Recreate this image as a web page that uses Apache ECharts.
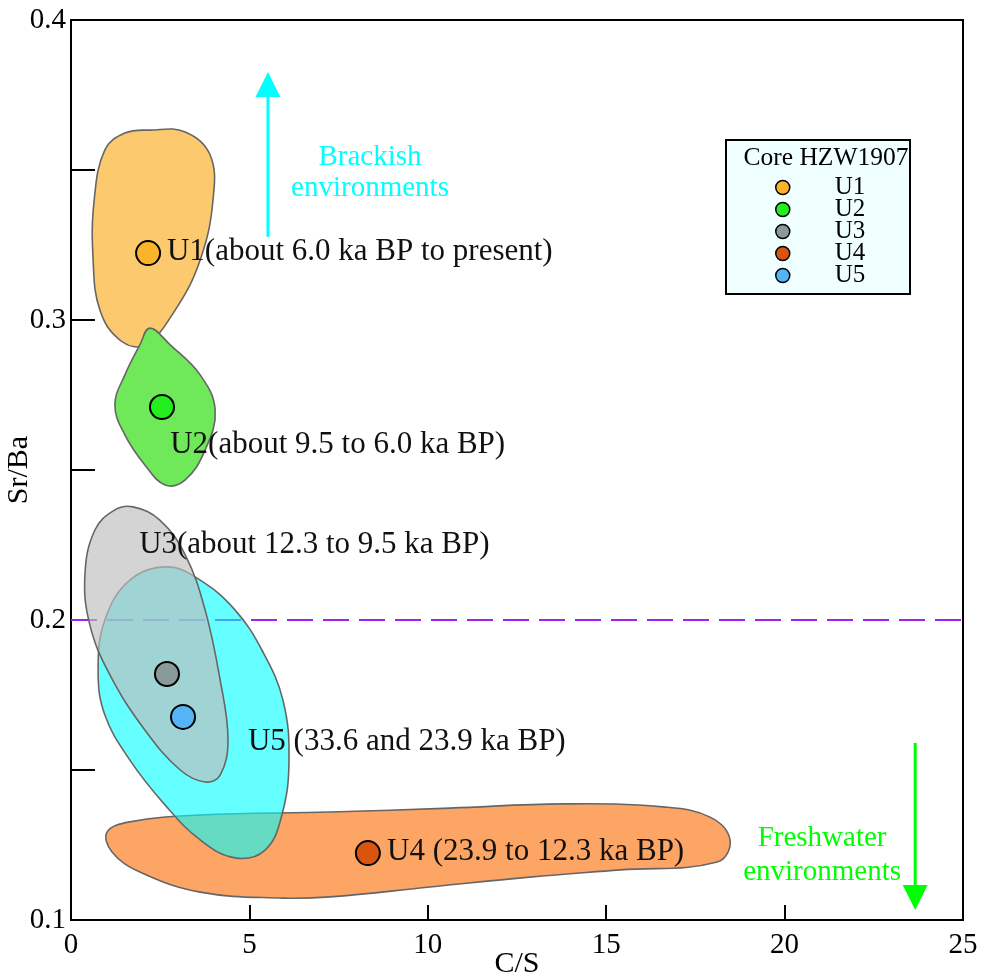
<!DOCTYPE html>
<html>
<head>
<meta charset="utf-8">
<script src="https://cdn.jsdelivr.net/npm/echarts@6/dist/echarts.min.js"></script>
<style>
html,body{margin:0;padding:0;background:#fff;}
#chart{width:985px;height:979px;}
</style>
</head>
<body>
<div id="chart"></div>
<script>
// ---------- data ----------
const xTicks = [0, 5, 10, 15, 20, 25];
const yTicks = [0.1, 0.2, 0.3, 0.4];
const unitNames = ['U1', 'U2', 'U3', 'U4', 'U5'];

// mean C/S and Sr/Ba of each unit
const u1Point = [2.16, 0.3223];
const u2Point = [2.55, 0.271];
const u3Point = [2.69, 0.182];
const u4Point = [8.32, 0.1223];
const u5Point = [3.14, 0.1677];

// envelope outlines [C/S, Sr/Ba]
const u1Blob = [[2.21,0.3633],[3.20,0.3627],[3.90,0.355],[3.98,0.34],[3.62,0.32],[2.92,0.3033],[2.07,0.2917],[1.37,0.2933],[0.81,0.3033],[0.62,0.32],[0.65,0.34],[0.95,0.3567],[1.51,0.3623]];
const u2Blob = [[2.21,0.2973],[2.78,0.2917],[3.62,0.2817],[4.04,0.27],[3.76,0.2567],[3.20,0.2467],[2.64,0.245],[2.07,0.2517],[1.51,0.2617],[1.23,0.2717],[1.51,0.2817],[1.93,0.2917]];
const u3Blob = [[1.74,0.2377],[2.49,0.2333],[3.20,0.2217],[3.76,0.2033],[4.18,0.18],[4.40,0.16],[4.18,0.1483],[3.76,0.146],[3.06,0.15],[2.07,0.1633],[1.09,0.1817],[0.53,0.1983],[0.39,0.215],[0.67,0.23],[1.23,0.2367]];
const u4Blob = [[1.01,0.1293],[1.65,0.1327],[3.62,0.135],[7.26,0.136],[10.62,0.1373],[13.79,0.1387],[16.59,0.1377],[17.91,0.1343],[18.47,0.1267],[18.11,0.1193],[15.39,0.1167],[12.86,0.1143],[10.06,0.111],[7.26,0.1077],[5.94,0.1073],[3.62,0.1093],[1.93,0.116],[1.15,0.1227]];
const u5Blob = [[2.69,0.2177],[3.62,0.2133],[4.60,0.2033],[5.35,0.19],[5.94,0.1733],[6.11,0.1533],[5.91,0.135],[5.44,0.1233],[4.60,0.1207],[3.62,0.1267],[2.64,0.1383],[1.65,0.1533],[0.95,0.1683],[0.76,0.1833],[0.95,0.2],[1.65,0.2133]];

const boundaryLine = [[0, 0.2], [25, 0.2]];

const annotationTexts = ['U1(about 6.0 ka BP to present)', 'U2(about 9.5 to 6.0 ka BP)', 'U3(about 12.3 to 9.5 ka BP)', 'U5 (33.6 and 23.9 ka BP)', 'U4 (23.9 to 12.3 ka BP)'];
const annotationAnchors = [[2.69, 0.3227], [2.78, 0.2583], [1.91, 0.225], [4.96, 0.1593], [8.86, 0.1227]];

const brackishArrow = [[5.52, 0.3277], [5.52, 0.3827]];
const freshArrow = [[23.66, 0.159], [23.66, 0.1033]];
const brackishText = 'Brackish\nenvironments';
const brackishAnchor = [8.38, 0.3492];
const freshText = 'Freshwater\nenvironments';
const freshAnchor = [21.05, 0.1217];

// ---------- styles ----------
const FONT = "'Liberation Serif', 'DejaVu Serif', serif";
const unitColors = {U1:'#FBB42A', U2:'#22F01E', U3:'#8A9A9A', U4:'#D9540F', U5:'#55B4F5'};

function blobSeries(name, pts, fill, z) {
  return {
    type: 'custom', name: name, z: z, silent: true,
    data: pts, encode: {x: 0, y: 1},
    renderItem: function (params, api) {
      if (params.dataIndex !== 0) return null;
      const points = pts.map(function (p) { return api.coord(p); });
      return {type: 'polygon', shape: {points: points, smooth: 0.4},
        style: {fill: fill, stroke: '#666666', lineWidth: 1.6}};
    }
  };
}

function arrowSeries(name, pts, color, z) {
  return {
    type: 'custom', name: name, z: z, silent: true,
    data: pts, encode: {x: 0, y: 1},
    renderItem: function (params, api) {
      if (params.dataIndex !== 0) return null;
      const a = api.coord(pts[0]);
      const b = api.coord(pts[1]);
      const dir = b[1] < a[1] ? -1 : 1;
      const headLen = 25, headHalf = 12.5;
      const base = b[1] - dir * headLen;
      return {type: 'group', children: [
        {type: 'line', shape: {x1: a[0], y1: a[1], x2: b[0], y2: base}, style: {stroke: color, lineWidth: 3}},
        {type: 'polygon', shape: {points: [[b[0], b[1]], [b[0] - headHalf, base], [b[0] + headHalf, base]]}, style: {fill: color}}
      ]};
    }
  };
}

function textSeries(name, anchors, texts, opts, z) {
  return {
    type: 'custom', name: name, z: z, silent: true,
    data: anchors, encode: {x: 0, y: 1},
    renderItem: function (params, api) {
      const p = api.coord(anchors[params.dataIndex]);
      return {type: 'text', x: p[0], y: p[1], style: Object.assign({
        text: texts[params.dataIndex], fontFamily: FONT
      }, opts)};
    }
  };
}

const series = [
  {
    type: 'line', name: 'boundary', z: 1, silent: true, symbol: 'none',
    data: boundaryLine,
    lineStyle: {color: '#A020F0', width: 2, type: [26, 10]}
  },
  blobSeries('U4 envelope', u4Blob, '#FDA565', 2),
  blobSeries('U5 envelope', u5Blob, 'rgba(0,255,255,0.6)', 3),
  blobSeries('U3 envelope', u3Blob, 'rgba(190,190,190,0.66)', 4),
  blobSeries('U1 envelope', u1Blob, '#FCC96E', 5),
  blobSeries('U2 envelope', u2Blob, '#6FE85A', 6),
  arrowSeries('brackish arrow', brackishArrow, '#00FFFF', 7),
  arrowSeries('fresh arrow', freshArrow, '#00FF00', 7),
  textSeries('brackish text', [brackishAnchor], [brackishText], {fill: '#00FFFF', fontSize: 29, lineHeight: 31, align: 'center', verticalAlign: 'middle'}, 8),
  textSeries('fresh text', [freshAnchor], [freshText], {fill: '#00FF00', fontSize: 29, lineHeight: 34, align: 'center', verticalAlign: 'middle'}, 8),
  textSeries('annotations', annotationAnchors, annotationTexts, {fill: '#111111', fontSize: 31, align: 'left', verticalAlign: 'middle'}, 12)
];

const points = {U1: u1Point, U2: u2Point, U3: u3Point, U4: u4Point, U5: u5Point};
unitNames.forEach(function (n) {
  series.push({
    type: 'scatter', name: n, z: 10, symbol: 'circle', symbolSize: 24,
    data: [points[n]],
    itemStyle: {color: unitColors[n], borderColor: '#000', borderWidth: 2, opacity: 1}
  });
});

const chart = echarts.init(document.getElementById('chart'), null, {renderer: 'canvas'});
chart.setOption({
  animation: false,
  backgroundColor: '#ffffff',
  textStyle: {fontFamily: FONT},
  grid: {left: 71, right: 22, top: 20, bottom: 59, containLabel: false, outerBoundsMode: 'none',
    show: true, borderColor: '#000', borderWidth: 2, backgroundColor: 'transparent'},
  xAxis: {
    type: 'value', min: xTicks[0], max: xTicks[xTicks.length - 1], interval: xTicks[1] - xTicks[0],
    name: 'C/S', nameLocation: 'middle', nameGap: 29, nameMoveOverlap: false,
    nameTextStyle: {fontFamily: FONT, fontSize: 30, color: '#000'},
    axisLine: {show: true, lineStyle: {color: '#000', width: 2}},
    axisTick: {show: true, inside: true, length: 15, lineStyle: {color: '#000', width: 2}},
    axisLabel: {fontFamily: FONT, fontSize: 29, color: '#000', margin: 11},
    splitLine: {show: false}
  },
  yAxis: {
    type: 'value', min: yTicks[0], max: yTicks[yTicks.length - 1], interval: 0.05,
    name: 'Sr/Ba', nameLocation: 'middle', nameGap: 37, nameMoveOverlap: false,
    nameTextStyle: {fontFamily: FONT, fontSize: 30, color: '#000'},
    axisLine: {show: true, lineStyle: {color: '#000', width: 2}},
    axisTick: {show: true, inside: true, length: 24, lineStyle: {color: '#000', width: 2}},
    axisLabel: {fontFamily: FONT, fontSize: 29, color: '#000', margin: 5,
      formatter: function (v) {
        const k = Math.round(v * 20);
        return k % 2 === 0 ? (k / 20).toFixed(1) : '';
      }},
    splitLine: {show: false}
  },
  legend: {
    data: unitNames, orient: 'vertical', left: 775, top: 175,
    itemWidth: 14, itemHeight: 14, itemGap: -3, icon: 'circle', padding: 0,
    textStyle: {fontFamily: FONT, fontSize: 25, color: '#000', lineHeight: 20, padding: [0, 0, 0, 40]},
    itemStyle: {borderColor: '#000', borderWidth: 1.5},
    selectedMode: false, z: 20
  },
  graphic: [
    {type: 'rect', z: 15, shape: {x: 726, y: 140, width: 184, height: 154},
      style: {fill: '#F0FFFF', stroke: '#000', lineWidth: 2}},
    {type: 'text', z: 16, x: 826, y: 158,
      style: {text: 'Core HZW1907', fontFamily: FONT, fontSize: 25.5, fill: '#000', align: 'center', verticalAlign: 'middle'}}
  ],
  series: series
});
</script>
</body>
</html>
